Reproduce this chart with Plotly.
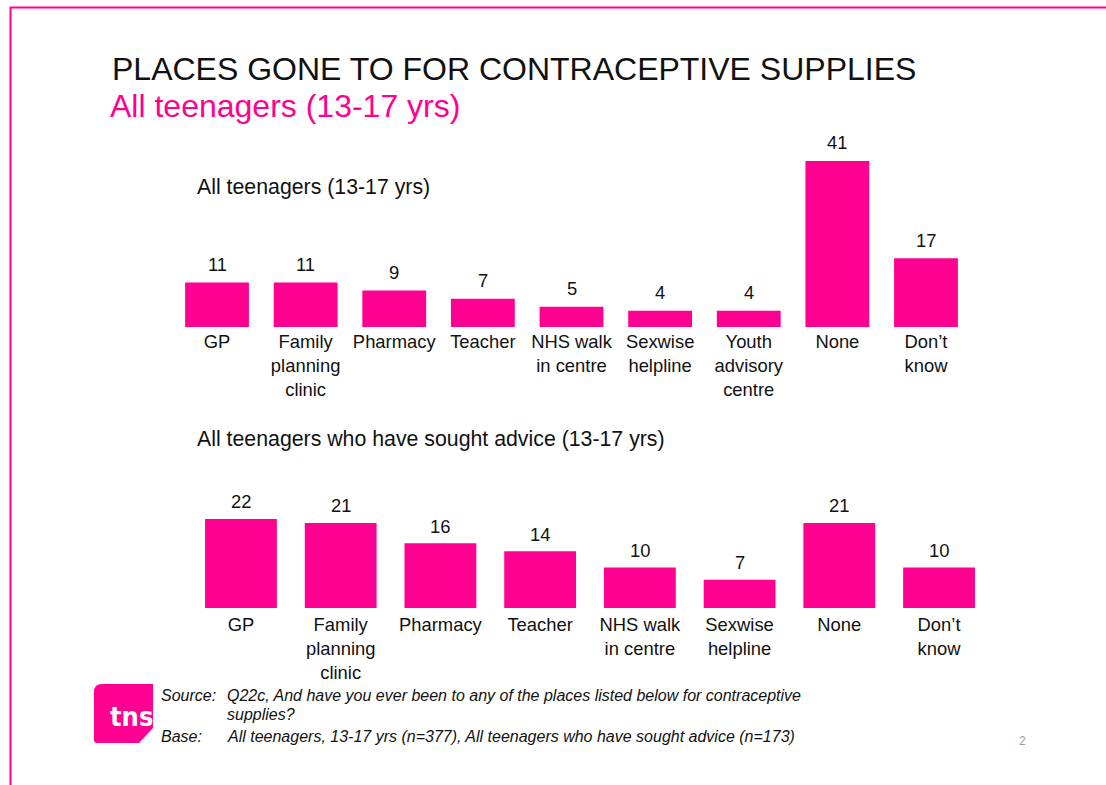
import plotly.graph_objects as go

# --- data -------------------------------------------------------------
places_all = ["GP", "Family<br>planning<br>clinic", "Pharmacy", "Teacher",
              "NHS walk<br>in centre", "Sexwise<br>helpline",
              "Youth<br>advisory<br>centre", "None", "Don\u2019t<br>know"]
pct_all = [11, 11, 9, 7, 5, 4, 4, 41, 17]

places_advice = ["GP", "Family<br>planning<br>clinic", "Pharmacy", "Teacher",
                 "NHS walk<br>in centre", "Sexwise<br>helpline", "None",
                 "Don\u2019t<br>know"]
pct_advice = [22, 21, 16, 14, 10, 7, 21, 10]

title_text = "PLACES GONE TO FOR CONTRACEPTIVE SUPPLIES"
subtitle_text = "All teenagers (13-17 yrs)"
panel_titles = ["All teenagers (13-17 yrs)",
                "All teenagers who have sought advice (13-17 yrs)"]
source_label = "Source:"
source_lines = ["Q22c, And have you ever been to any of the places listed below for contraceptive",
                "supplies?"]
base_label = "Base:"
base_text = "All teenagers, 13-17 yrs (n=377), All teenagers who have sought advice (n=173)"
page_no = "2"

# --- page geometry ----------------------------------------------------
W, H = 1106, 785
PINK = "#FF0090"
FONT = "Liberation Sans, Arial, sans-serif"
INK = "#111111"
PX_PER_UNIT = 4.05


def fx(px):
    return px / W


def fy(py):
    return 1 - py / H


fig = go.Figure()

x1 = list(range(len(places_all)))
x2 = list(range(len(places_advice)))

fig.add_trace(go.Bar(x=x1, y=pct_all, marker=dict(color=PINK, line_width=0),
                     width=0.72, xaxis="x", yaxis="y", hoverinfo="skip"))
fig.add_trace(go.Bar(x=x2, y=pct_advice, marker=dict(color=PINK, line_width=0),
                     width=0.72, xaxis="x2", yaxis="y2", hoverinfo="skip"))

# panel 1 : baseline at 327 px, 150 px top
p1_left, p1_right, p1_base, p1_top = 172.7, 970.3, 327, 150
# panel 2 : baseline at 608 px
p2_left, p2_right, p2_base, p2_top = 191.1, 988.9, 608, 490

axis_font = dict(family=FONT, size=18.4, color=INK)
common_x = dict(showgrid=False, zeroline=False, showline=False, ticks="",
                tickfont=axis_font, fixedrange=True, tickmode="array")
common_y = dict(showgrid=False, zeroline=False, showline=False,
                showticklabels=False, ticks="", fixedrange=True)

fig.update_layout(
    xaxis=dict(domain=[fx(p1_left), fx(p1_right)], range=[-0.5, len(x1) - 0.5],
               tickvals=x1, ticktext=places_all, anchor="y",
               ticklabelstandoff=2, **common_x),
    yaxis=dict(domain=[fy(p1_base), fy(p1_top)],
               range=[0, (p1_base - p1_top) / PX_PER_UNIT], anchor="x", **common_y),
    xaxis2=dict(domain=[fx(p2_left), fx(p2_right)], range=[-0.5, len(x2) - 0.5],
                tickvals=x2, ticktext=places_advice, anchor="y2",
                ticklabelstandoff=4, **common_x),
    yaxis2=dict(domain=[fy(p2_base), fy(p2_top)],
                range=[0, (p2_base - p2_top) / PX_PER_UNIT], anchor="x2", **common_y),
)

annotations = []

# value labels above bars
for xs, vals, xa, ya, lift in ((x1, pct_all, "x", "y", 18), (x2, pct_advice, "x2", "y2", 17)):
    for xi, v in zip(xs, vals):
        annotations.append(dict(x=xi, y=v, xref=xa, yref=ya, text=str(v),
                                showarrow=False, yanchor="middle", yshift=lift,
                                font=dict(family=FONT, size=18.4, color=INK)))


def page_text(text, px, py, size, color=INK, italic=False, anchor="left"):
    t = f"<i>{text}</i>" if italic else text
    annotations.append(dict(x=fx(px), y=fy(py), xref="paper", yref="paper",
                            text=t, showarrow=False, xanchor=anchor,
                            yanchor="middle",
                            font=dict(family=FONT, size=size, color=color)))


page_text(title_text, 110, 69, 32)
page_text(subtitle_text, 108, 106, 32, color=PINK)
page_text(panel_titles[0], 195, 187, 21.3)
page_text(panel_titles[1], 195, 439, 21.3)

page_text(source_label, 159, 695, 16, italic=True)
page_text(source_lines[0], 225, 695, 16, italic=True)
page_text(source_lines[1], 225, 714, 16, italic=True)
page_text(base_label, 159, 736, 16, italic=True)
page_text(base_text, 225, 736, 16, italic=True)
page_text(page_no, 1022, 741, 12, color="#9a9a9a", anchor="center")

# logo lettering
annotations.append(dict(x=fx(155), y=fy(716), xref="paper", yref="paper",
                        text="<b>tns</b>", showarrow=False, xanchor="right",
                        yanchor="middle",
                        font=dict(family="DejaVu Sans Condensed, DejaVu Sans, sans-serif",
                                  size=27, color="white")))

shapes = [
    # slide frame
    dict(type="line", xref="paper", yref="paper", x0=fx(10), x1=1.0,
         y0=fy(7.5), y1=fy(7.5), line=dict(color=PINK, width=2)),
    dict(type="line", xref="paper", yref="paper", x0=fx(10.5), x1=fx(10.5),
         y0=fy(7), y1=0, line=dict(color=PINK, width=2)),
    # logo block: rounded top-left, bevelled bottom-right
    dict(type="path", xref="paper", yref="paper", layer="below",
         path=(f"M {fx(94)},{fy(692)} Q {fx(94)},{fy(684)} {fx(102)},{fy(684)} "
               f"L {fx(153)},{fy(684)} L {fx(153)},{fy(728)} "
               f"L {fx(139)},{fy(743)} L {fx(97)},{fy(743)} "
               f"Q {fx(94)},{fy(743)} {fx(94)},{fy(740)} Z"),
         fillcolor=PINK, line=dict(width=0)),
]

fig.update_layout(
    width=W, height=H,
    margin=dict(l=0, r=0, t=0, b=0),
    paper_bgcolor="white", plot_bgcolor="white",
    showlegend=False, bargap=0.28,
    annotations=annotations, shapes=shapes,
    font=dict(family=FONT, color=INK),
)

fig.write_html("out.html", config={"displayModeBar": False})
